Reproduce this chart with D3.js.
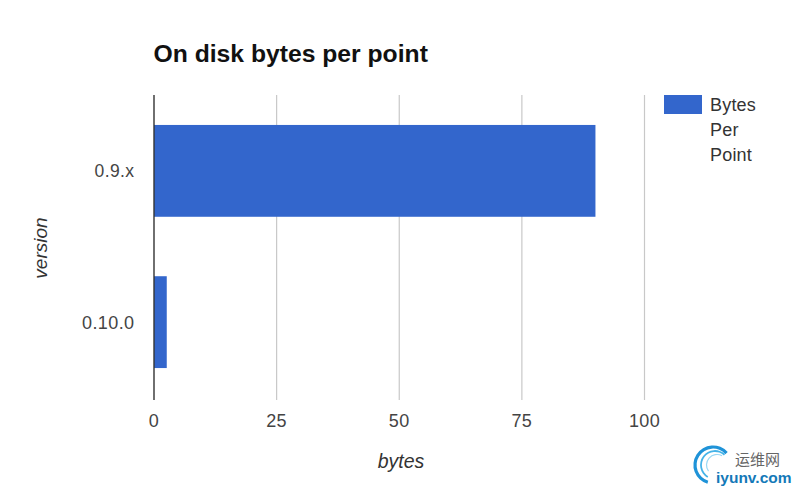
<!DOCTYPE html>
<html><head><meta charset="utf-8">
<script src="https://cdnjs.cloudflare.com/ajax/libs/d3/7.8.5/d3.min.js"></script>
<style>html,body{margin:0;padding:0;background:#fff}svg{display:block}text{font-family:"Liberation Sans",Arial,sans-serif}</style>
</head><body><svg id="c" width="797" height="494"></svg>
<script>
const categories = ["0.9.x", "0.10.0"];
const values = [90, 2.6];
const ticks = [0, 25, 50, 75, 100];
const legendWords = ["Bytes", "Per", "Point"];
const titleText = "On disk bytes per point";
const xTitle = "bytes", yTitle = "version";

const svg = d3.select("#c");
const x = d3.scaleLinear().domain([0, 100]).range([154, 644.5]);
const y = d3.scaleBand().domain(categories).range([95, 398]).paddingInner(0.393).paddingOuter(0.198);
const blue = "#3366cc", grey = "#444";

svg.append("text").attr("x", 153.5).attr("y", 62).attr("font-size", 24.7).attr("font-weight", "bold").attr("fill", "#111").text(titleText);

svg.selectAll(".g").data(ticks.slice(1)).join("line")
  .attr("x1", d => x(d)).attr("x2", d => x(d)).attr("y1", 95).attr("y2", 400)
  .attr("stroke", "#c8c8c8").attr("stroke-width", 1.2);

svg.selectAll(".b").data(values).join("rect")
  .attr("x", x(0)).attr("y", (d, i) => y(categories[i]))
  .attr("width", d => x(d) - x(0)).attr("height", y.bandwidth()).attr("fill", blue);

svg.append("line").attr("x1", x(0)).attr("x2", x(0)).attr("y1", 95).attr("y2", 400).attr("stroke", "#333").attr("stroke-width", 1.4);

svg.selectAll(".xl").data(ticks).join("text")
  .attr("x", d => x(d)).attr("y", 426.5).attr("text-anchor", "middle")
  .attr("font-size", 18).attr("letter-spacing", 0.4).attr("fill", grey).text(d => d);

svg.selectAll(".yl").data(categories).join("text")
  .attr("x", 134.5).attr("y", d => y(d) + y.bandwidth() / 2 + 6.5).attr("text-anchor", "end")
  .attr("font-size", d => d === "0.9.x" ? 17.5 : 18).attr("letter-spacing", 0.4).attr("fill", grey).text(d => d);

svg.append("text").attr("x", 401).attr("y", 468).attr("text-anchor", "middle")
  .attr("font-size", 19.5).attr("font-style", "italic").attr("fill", "#333").text(xTitle);
svg.append("text").attr("transform", "translate(47,248) rotate(-90)").attr("text-anchor", "middle")
  .attr("font-size", 19).attr("font-style", "italic").attr("fill", "#333").text(yTitle);

svg.append("rect").attr("x", 664).attr("y", 95).attr("width", 38).attr("height", 19).attr("fill", blue);
svg.selectAll(".lg").data(legendWords).join("text")
  .attr("x", 710).attr("y", (d, i) => 110.5 + i * 25).attr("font-size", 18).attr("letter-spacing", 0.2).attr("fill", "#333").text(d => d);

// watermark
const wm = svg.append("g");
const arc = d3.arc();
[[18, "#1f93d8", 3.2, -2.85, 0.85, 713, 465], [14, "#45b3e8", 1.8, -2.6, 0.75, 715, 465], [10.5, "#9ad8f4", 1.2, -2.2, 0.5, 717, 465]].forEach(([r, c, w, a0, a1, cx, cy]) => {
  wm.append("path").attr("transform", `translate(${cx},${cy})`)
    .attr("d", arc({innerRadius: r - w / 2, outerRadius: r + w / 2, startAngle: a0, endAngle: a1}))
    .attr("fill", c);
});
wm.append("text").attr("x", 735).attr("y", 465).style("font-family", "'Noto Sans CJK SC'").attr("font-size", 15).attr("fill", "#666").text("运维网");
wm.append("text").attr("x", 716).attr("y", 482.5).attr("font-size", 15.5).attr("font-weight", "bold").attr("fill", "#1479b8").text("iyunv.com");
</script></body></html>
